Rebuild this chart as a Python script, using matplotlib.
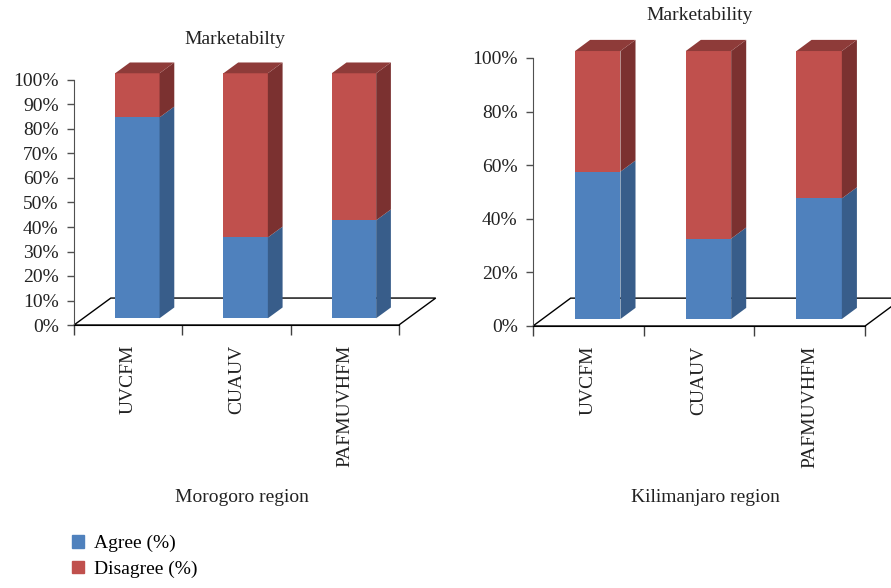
import matplotlib.pyplot as plt
from matplotlib.patches import Polygon, Patch

plt.rcParams['font.family'] = ['Liberation Serif', 'DejaVu Serif']

categories = ['UVCFM', 'CUAUV', 'PAFMUVHFM']
morogoro_agree = [82, 33, 40]
morogoro_disagree = [18, 67, 60]
kilimanjaro_agree = [55, 30, 45]
kilimanjaro_disagree = [45, 70, 55]

BLUE, BLUE_SIDE = '#4F81BD', '#385D8A'
RED, RED_SIDE, RED_TOP = '#C0504D', '#7B3130', '#8E3B39'

W, H = 891, 588
fig = plt.figure(figsize=(W / 100, H / 100), dpi=100)


def px_box(left, bottom_px, width, height):
    # pixel box (origin top-left) -> figure fraction
    return [left / W, (H - bottom_px) / H, width / W, height / H]


def draw_panel(ax, agree, disagree, dy, ystep, title, title_xy, region, region_xy):
    dx = 0.34          # floor depth in category units
    z0, z1 = 0.25, 0.65  # bar front / back depth
    width = 0.41
    x = [i for i in range(len(categories))]

    # floor of the 3d plot
    floor = Polygon([(-0.5, 0), (2.5, 0), (2.5 + dx, dy), (-0.5 + dx, dy)],
                    closed=True, fill=False, edgecolor='black', lw=1.0,
                    zorder=1, clip_on=False)
    ax.add_patch(floor)

    xf = [i + z0 * dx for i in x]
    base = z0 * dy
    ax.bar(xf, agree, width=width, bottom=base, color=BLUE, lw=0, zorder=3)
    tops = [base + a for a in agree]
    ax.bar(xf, disagree, width=width, bottom=tops, color=RED, lw=0, zorder=3)

    ddx, ddy = (z1 - z0) * dx, (z1 - z0) * dy
    for xc, a, d in zip(xf, agree, disagree):
        xl, xr = xc - width / 2, xc + width / 2
        segs = [(base, base + a, BLUE_SIDE), (base + a, base + a + d, RED_SIDE)]
        for y0, y1, col in segs:
            ax.add_patch(Polygon([(xr, y0), (xr + ddx, y0 + ddy), (xr + ddx, y1 + ddy), (xr, y1)],
                                 closed=True, color=col, lw=0, zorder=3))
        ytop = base + a + d
        ax.add_patch(Polygon([(xl, ytop), (xr, ytop), (xr + ddx, ytop + ddy), (xl + ddx, ytop + ddy)],
                             closed=True, color=RED_TOP, lw=0, zorder=3))

    ax.set_xlim(-0.5, 2.9)
    ax.set_ylim(0, 112)
    for s in ['top', 'right']:
        ax.spines[s].set_visible(False)
    ax.spines['left'].set_bounds(0, 100)
    ax.spines['left'].set_color('#505050')
    ax.spines['bottom'].set_bounds(-0.5, 2.5)
    ax.spines['bottom'].set_color('black')

    yt = list(range(0, 101, ystep))
    ax.set_yticks(yt)
    ax.set_yticklabels([f'{v}%' for v in yt], fontsize=14, color='#222222')
    ax.tick_params(axis='y', length=5, width=1, color='#505050', pad=6)

    ax.set_xticks([-0.5, 0.5, 1.5, 2.5])
    ax.set_xticklabels([])
    ax.tick_params(axis='x', which='major', length=7, width=1, color='#404040')
    ax.set_xticks(x, minor=True)
    ax.set_xticklabels(categories, minor=True, rotation=90, fontsize=14,
                       va='top', ha='center', color='#222222')
    ax.tick_params(axis='x', which='minor', length=0, pad=14)
    ax.patch.set_visible(False)

    fig.text(title_xy[0] / W, 1 - title_xy[1] / H, title, fontsize=14,
             ha='center', va='center', color='#222222')
    fig.text(region_xy[0] / W, 1 - region_xy[1] / H, region, fontsize=14,
             ha='center', va='center', color='#222222')


# left panel: x -0.5 at px 74, 108.3 px/unit; y 0 at px 325, 2.45 px/%
ax1 = fig.add_axes(px_box(74, 325, 3.4 * 108.3, 112 * 2.45))
draw_panel(ax1, morogoro_agree, morogoro_disagree, 11.0, 10,
           'Marketabilty', (235, 39), 'Morogoro region', (242, 498))

# right panel: x -0.5 at px 533, 110.7 px/unit; y 0 at px 326, 2.68 px/%
ax2 = fig.add_axes(px_box(533, 326, 3.4 * 110.7, 112 * 2.68))
draw_panel(ax2, kilimanjaro_agree, kilimanjaro_disagree, 10.4, 20,
           'Marketability', (700, 15), 'Kilimanjaro region', (705, 498))

handles = [Patch(color=BLUE, label='Agree (%)'), Patch(color=RED, label='Disagree (%)')]
fig.legend(handles=handles, loc='upper left', bbox_to_anchor=(72 / W, 1 - 535 / H),
           frameon=False, fontsize=14, handlelength=0.62, handleheight=0.62,
           handletextpad=0.5, labelspacing=0.42, borderpad=0, borderaxespad=0)

fig.savefig('out.png', dpi=100)
